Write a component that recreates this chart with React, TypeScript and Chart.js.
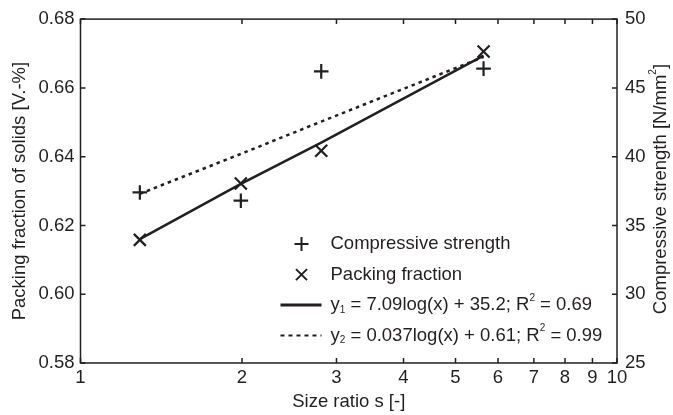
import React, { useEffect, useRef } from 'react';
import { Chart, registerables } from 'chart.js';

Chart.register(...registerables);

// ---- data ----
const sizeRatio = [1.29, 1.99, 2.81, 5.64];
const compressiveStrength = [37.4, 36.8, 46.2, 46.4]; // N/mm², right axis
const packingFraction = [0.6158, 0.6322, 0.6417, 0.6706]; // left axis
const fitSolid = [0.616, 0.6321, 0.6441, 0.6694]; // solid trend line, left axis
const fitDotted = [37.3, 40.2, 42.55, 47.25]; // dotted trend line, right axis
const xTicks = [1, 2, 3, 4, 5, 6, 7, 8, 9, 10];
const leftTicks = [0.58, 0.6, 0.62, 0.64, 0.66, 0.68];
const rightTicks = [25, 30, 35, 40, 45, 50];

const legendMarkers = ['Compressive strength', 'Packing fraction'];
const legendFits = [
  [
    { t: 'y', m: 'n' }, { t: '1', m: 'sub' }, { t: ' = 7.09log(x) + 35.2; R', m: 'n' },
    { t: '2', m: 'sup' }, { t: ' = 0.69', m: 'n' },
  ],
  [
    { t: 'y', m: 'n' }, { t: '2', m: 'sub' }, { t: ' = 0.037log(x) + 0.61; R', m: 'n' },
    { t: '2', m: 'sup' }, { t: ' = 0.99', m: 'n' },
  ],
];
const xTitle = 'Size ratio s [-]';
const leftTitle = 'Packing fraction of solids [V.-%]';
const rightTitle = [
  { t: 'Compressive strength [N/mm', m: 'n' }, { t: '2', m: 'sup' }, { t: ']', m: 'n' },
];

const INK = '#231f20';
const FAM = '"Liberation Sans", Arial, sans-serif';
const FS = 18.5;

type Part = { t: string; m: string };

function partFont(m: string) {
  return m === 'n' ? `${FS}px ${FAM}` : `10px ${FAM}`;
}
function richWidth(ctx: CanvasRenderingContext2D, parts: Part[]) {
  let w = 0;
  for (const p of parts) {
    ctx.font = partFont(p.m);
    w += ctx.measureText(p.t).width;
  }
  return w;
}
function drawRich(ctx: CanvasRenderingContext2D, x: number, y: number, parts: Part[]) {
  ctx.textAlign = 'left';
  ctx.textBaseline = 'middle';
  let cx = x;
  for (const p of parts) {
    ctx.font = partFont(p.m);
    const dy = p.m === 'sub' ? 5 : p.m === 'sup' ? -7 : 0;
    ctx.fillText(p.t, cx, y + dy);
    cx += ctx.measureText(p.t).width;
  }
}

function drawPlus(ctx: CanvasRenderingContext2D, x: number, y: number, r: number) {
  ctx.beginPath();
  ctx.moveTo(x - r, y); ctx.lineTo(x + r, y);
  ctx.moveTo(x, y - r); ctx.lineTo(x, y + r);
  ctx.stroke();
}
function drawX(ctx: CanvasRenderingContext2D, x: number, y: number, r: number) {
  ctx.beginPath();
  ctx.moveTo(x - r, y - r); ctx.lineTo(x + r, y + r);
  ctx.moveTo(x - r, y + r); ctx.lineTo(x + r, y - r);
  ctx.stroke();
}

const decorPlugin = {
  id: 'decor',
  beforeDatasetsDraw(chart: any) {
    const { ctx, chartArea: a, scales } = chart;
    ctx.save();
    ctx.strokeStyle = INK;
    ctx.lineWidth = 1.5;
    ctx.strokeRect(a.left, a.top, a.right - a.left, a.bottom - a.top);
    const T = 5;
    ctx.beginPath();
    for (const v of xTicks) {
      const p = scales.x.getPixelForValue(v);
      ctx.moveTo(p, a.bottom); ctx.lineTo(p, a.bottom - T);
      ctx.moveTo(p, a.top); ctx.lineTo(p, a.top + T);
    }
    for (const v of leftTicks) {
      const p = scales.y.getPixelForValue(v);
      ctx.moveTo(a.left, p); ctx.lineTo(a.left + T, p);
    }
    for (const v of rightTicks) {
      const p = scales.y1.getPixelForValue(v);
      ctx.moveTo(a.right, p); ctx.lineTo(a.right - T, p);
    }
    ctx.stroke();
    ctx.restore();
  },
  afterDraw(chart: any) {
    const { ctx, chartArea: a } = chart;
    ctx.save();
    ctx.fillStyle = INK;
    ctx.strokeStyle = INK;
    const midY = (a.top + a.bottom) / 2;

    // axis titles
    ctx.font = `${FS}px ${FAM}`;
    ctx.textAlign = 'center';
    ctx.textBaseline = 'middle';
    ctx.fillText(xTitle, (a.left + a.right) / 2, 402);

    ctx.save();
    ctx.translate(19.5, midY);
    ctx.rotate(-Math.PI / 2);
    ctx.font = `${FS}px ${FAM}`;
    ctx.textAlign = 'center';
    ctx.fillText(leftTitle, 0, 0);
    ctx.restore();

    ctx.save();
    ctx.translate(660.5, midY - 2);
    ctx.rotate(-Math.PI / 2);
    const rw = richWidth(ctx, rightTitle);
    drawRich(ctx, -rw / 2, 0, rightTitle);
    ctx.restore();

    // legend
    const lx0 = a.left + 200;
    const lx1 = a.left + 241;
    const mx = a.left + 221;
    const tx = a.left + 250;
    const rows = [a.top + 225, a.top + 255.5, a.top + 286, a.top + 316.5];
    ctx.lineWidth = 2;
    drawPlus(ctx, mx, rows[0], 7);
    drawX(ctx, mx, rows[1], 5.5);
    ctx.font = `${FS}px ${FAM}`;
    ctx.textAlign = 'left';
    ctx.textBaseline = 'middle';
    ctx.fillText(legendMarkers[0], tx, rows[0]);
    ctx.fillText(legendMarkers[1], tx, rows[1]);

    ctx.lineWidth = 3;
    ctx.beginPath();
    ctx.moveTo(lx0, rows[2]); ctx.lineTo(lx1, rows[2]);
    ctx.stroke();
    ctx.lineWidth = 2;
    ctx.setLineDash([4, 4]);
    ctx.beginPath();
    ctx.moveTo(lx0, rows[3]); ctx.lineTo(lx1, rows[3]);
    ctx.stroke();
    ctx.setLineDash([]);
    drawRich(ctx, tx, rows[2], legendFits[0]);
    drawRich(ctx, tx, rows[3], legendFits[1]);
    ctx.restore();
  },
};

export default function App() {
  const ref = useRef<HTMLCanvasElement | null>(null);
  useEffect(() => {
    if (!ref.current) return;
    const pts = (ys: number[]) => sizeRatio.map((x, i) => ({ x, y: ys[i] }));
    const tickFont = { family: FAM, size: FS };
    const chart = new Chart(ref.current, {
      type: 'scatter',
      data: {
        datasets: [
          {
            label: 'Compressive strength',
            data: pts(compressiveStrength),
            yAxisID: 'y1',
            pointStyle: 'cross',
            pointRadius: 7.3,
            pointBorderWidth: 2.2,
            borderColor: INK,
            backgroundColor: 'transparent',
            showLine: false,
          },
          {
            label: 'Packing fraction',
            data: pts(packingFraction),
            yAxisID: 'y',
            pointStyle: 'crossRot',
            pointRadius: 8.5,
            pointBorderWidth: 2.2,
            borderColor: INK,
            backgroundColor: 'transparent',
            showLine: false,
          },
          {
            label: 'fit solid',
            data: pts(fitSolid),
            yAxisID: 'y',
            showLine: true,
            pointRadius: 0,
            borderColor: INK,
            borderWidth: 2.5,
          },
          {
            label: 'fit dotted',
            data: pts(fitDotted),
            yAxisID: 'y1',
            showLine: true,
            pointRadius: 0,
            borderColor: INK,
            borderWidth: 2.5,
            borderDash: [3.5, 4],
          },
        ],
      },
      options: {
        animation: false,
        responsive: false,
        layout: { padding: { top: 17, left: 0, right: 0, bottom: 0 } },
        plugins: { legend: { display: false }, tooltip: { enabled: false } },
        scales: {
          x: {
            type: 'logarithmic',
            min: 1,
            max: 10,
            grid: { display: false, drawTicks: false, tickLength: 0 },
            border: { display: false },
            afterBuildTicks: (s: any) => { s.ticks = xTicks.map((v) => ({ value: v })); },
            afterFit: (s: any) => { s.height = 52; },
            ticks: {
              autoSkip: false,
              maxRotation: 0,
              minRotation: 0,
              padding: 4,
              color: INK,
              font: tickFont,
              callback: (v: any) => String(v),
            },
          },
          y: {
            type: 'linear',
            position: 'left',
            min: 0.58,
            max: 0.68,
            grid: { display: false, drawTicks: false, tickLength: 0 },
            border: { display: false },
            afterBuildTicks: (s: any) => { s.ticks = leftTicks.map((v) => ({ value: v })); },
            afterFit: (s: any) => { s.width = 80.5; },
            ticks: {
              padding: 6,
              color: INK,
              font: tickFont,
              callback: (v: any) => Number(v).toFixed(2),
            },
          },
          y1: {
            type: 'linear',
            position: 'right',
            min: 25,
            max: 50,
            grid: { display: false, drawTicks: false, tickLength: 0 },
            border: { display: false },
            afterBuildTicks: (s: any) => { s.ticks = rightTicks.map((v) => ({ value: v })); },
            afterFit: (s: any) => { s.width = 56; },
            ticks: {
              padding: 8,
              color: INK,
              font: tickFont,
              callback: (v: any) => String(v),
            },
          },
        },
      },
      plugins: [decorPlugin],
    } as any);
    return () => chart.destroy();
  }, []);
  return (
    <div style={{ position: 'fixed', left: 0, top: 0, width: 673, height: 415, background: '#fff' }}>
      <canvas ref={ref} width={673} height={415} style={{ display: 'block' }} />
    </div>
  );
}
